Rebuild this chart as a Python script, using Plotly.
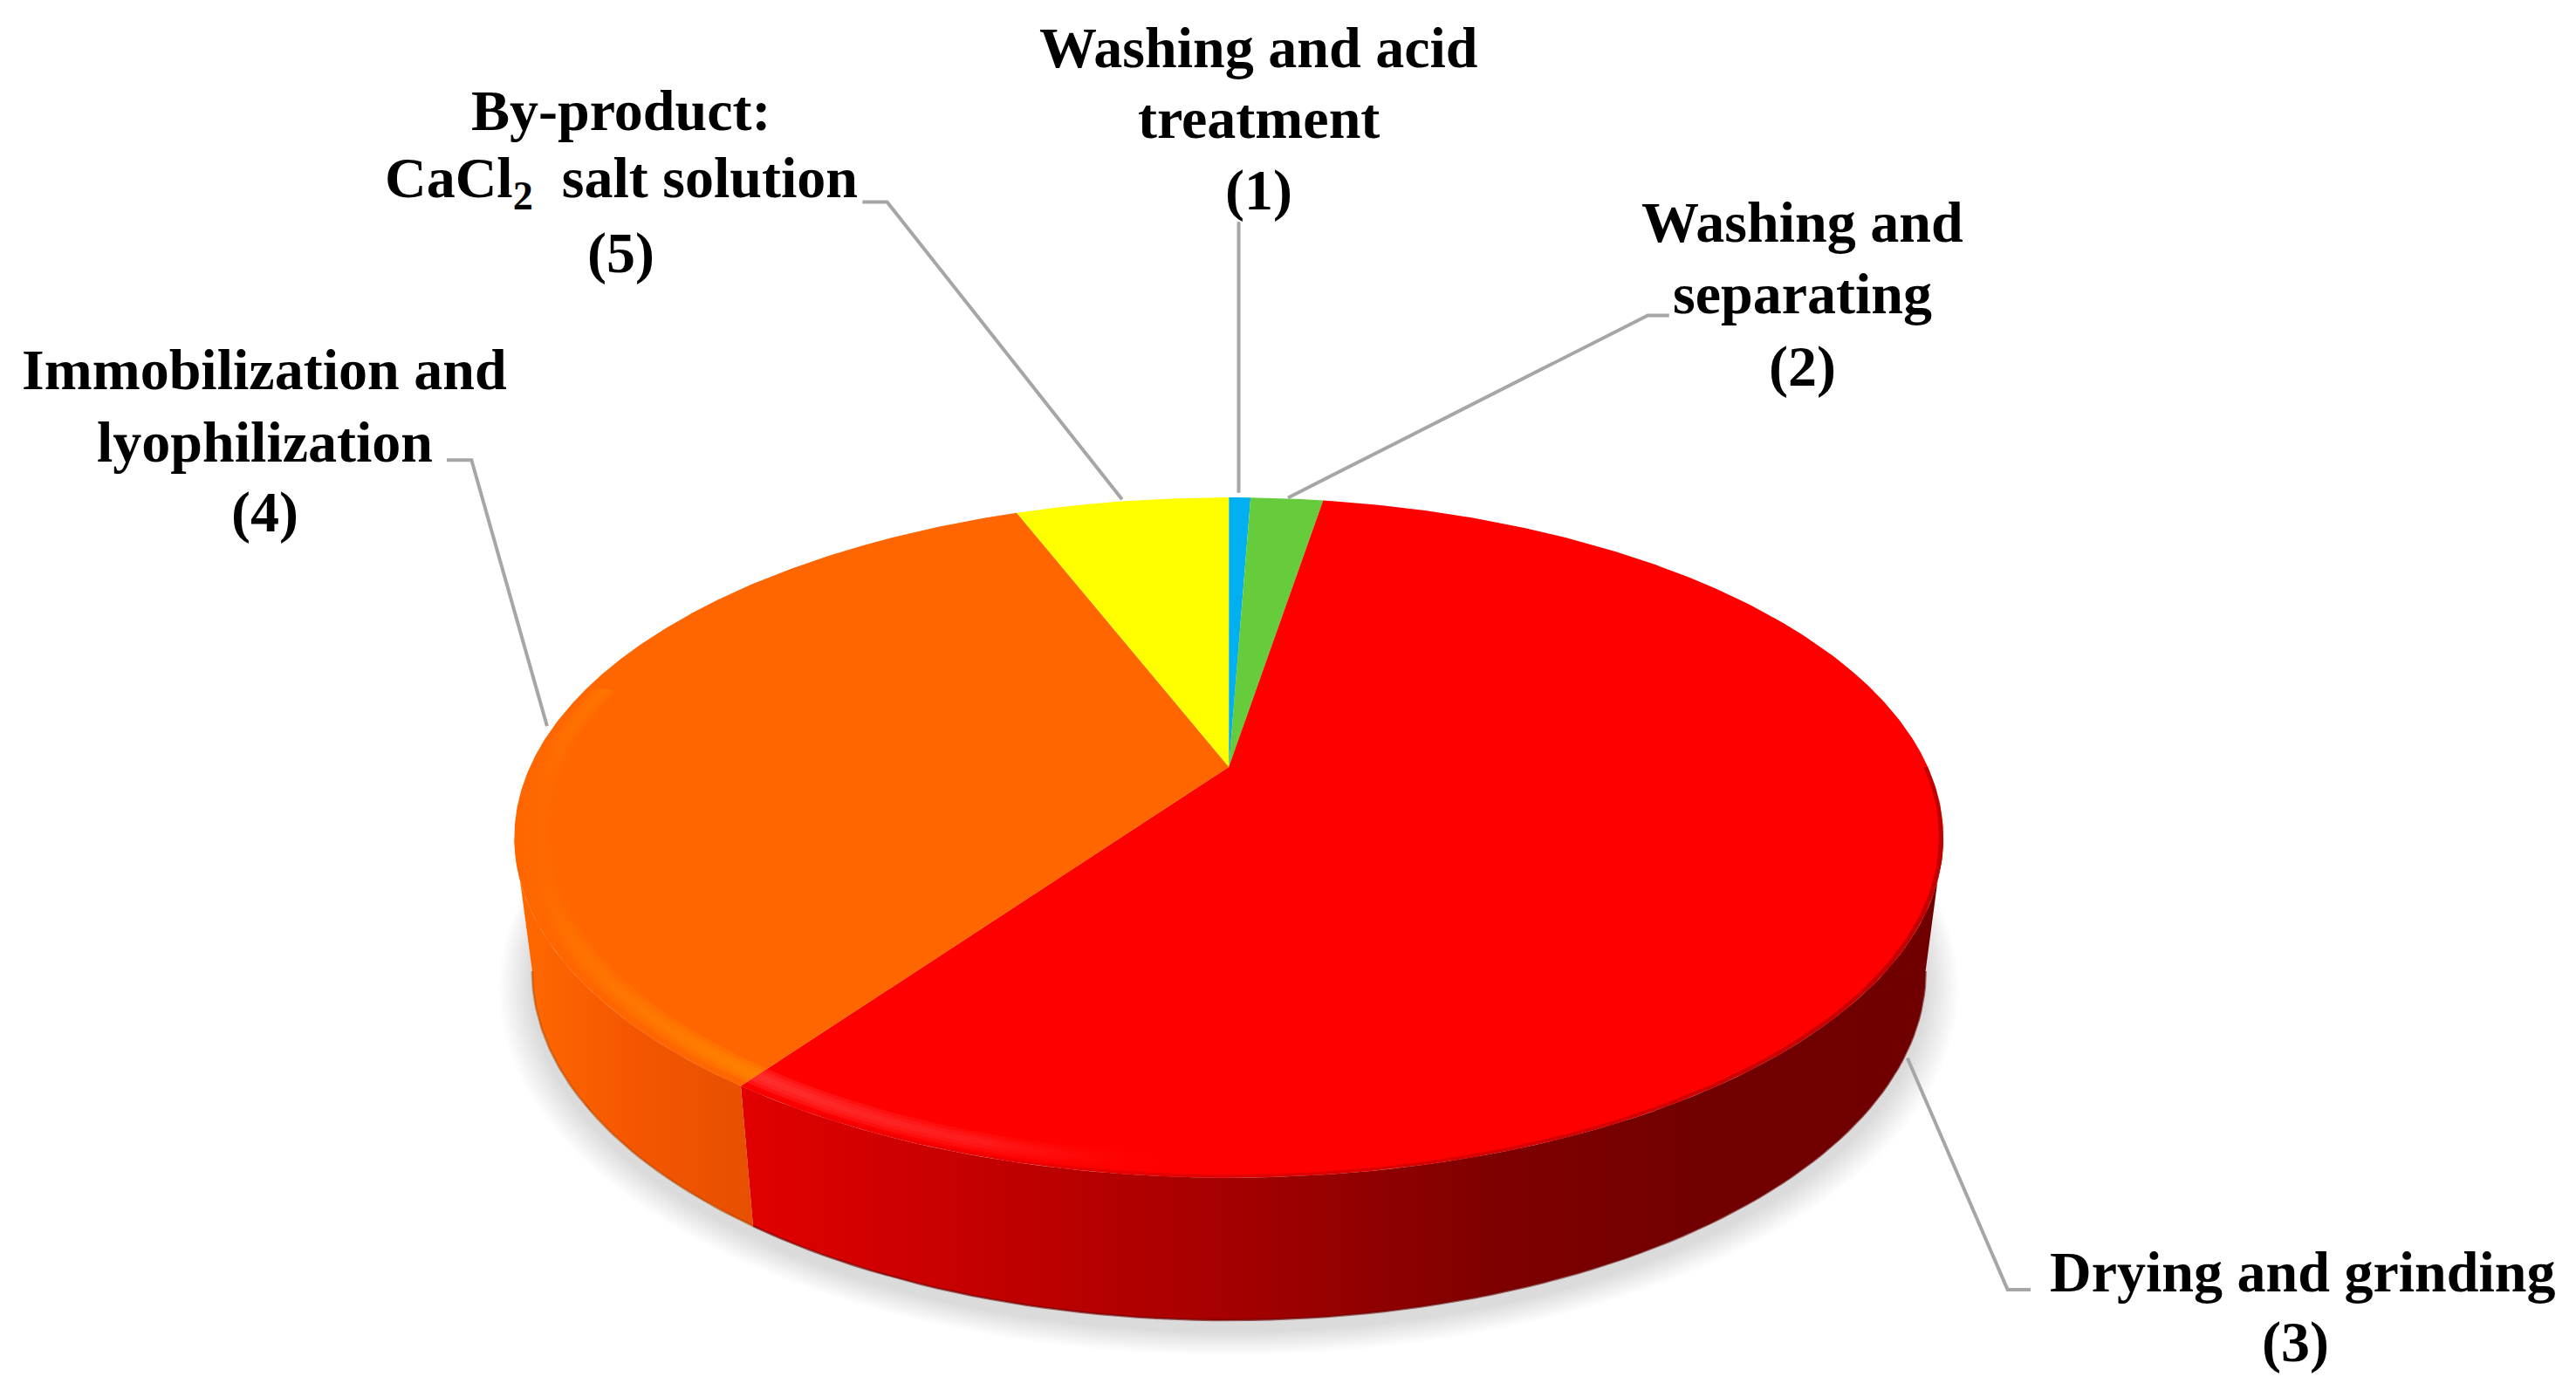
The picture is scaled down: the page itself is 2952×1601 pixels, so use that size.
import numpy as np
import plotly.graph_objects as go

label_lines = [["Washing and acid", "treatment", "(1)"], ["Washing and", "separating", "(2)"],
               ["Drying and grinding", "(3)"], ["Immobilization and", "lyophilization", "(4)"],
               ["By-product:", "CaCl<sub>2</sub>  salt solution", "(5)"]]
names = ["Washing and acid treatment", "Washing and separating", "Drying and grinding",
         "Immobilization and lyophilization", "By-product: CaCl2 salt solution"]
values = [0.6, 2.0, 57.25, 34.25, 5.9]
top_colors = ["#00b0f0", "#66cc3c", "#ff0000", "#ff6600", "#ffff00"]

W, H = 2952, 1601
S = W / 1568
CX = 748 * S
APEX_Y = 879.0
P = 0.2076
A = 801.0
B = 373.0
DEPTH = 151.0
BOTTOM_KX = 0.975
BOTTOM_KY = 1.026


def proj(theta_deg, radius=1.0, level=0.0):
    t = np.radians(theta_deg)
    u, v = radius * np.sin(t), radius * np.cos(t)
    w = 1 + P * v
    kx = 1 + (BOTTOM_KX - 1) * level
    ky = 1 + (BOTTOM_KY - 1) * level
    return CX + kx * A * u / w, APEX_Y + DEPTH * level - ky * B * v / w


fig = go.Figure()


def poly(x, y, color=None, grad=None, name=None):
    kw = dict(fillgradient=grad) if grad else dict(fillcolor=color)
    fig.add_trace(go.Scatter(x=np.round(x, 1), y=np.round(y, 1), mode="lines", fill="toself",
                             line=dict(width=0), hoverinfo="skip", name=name, showlegend=False, **kw))


# soft shadow under the disc
full = np.linspace(0, 360, 181)
for grow in np.arange(36, 0, -3):
    r = 1 + grow / 800
    x, y = proj(full, r, 1.0)
    poly(x, y + 12, "rgba(0,0,0,0.0105)")

# cumulative angles of the slices, clockwise from the top
edges = np.concatenate([[0], np.cumsum(values)]) / sum(values) * 360
ext = np.degrees(np.arccos(-P))  # silhouette angle on the right


def wall(t0, t1, scale, name):
    th = np.linspace(t0, t1, 90)
    x0, y0 = proj(th, 1, 0)
    x1, y1 = proj(th[::-1], 1, 1)
    poly(np.r_[x0, x1], np.r_[y0, y1], grad=dict(type="horizontal", colorscale=scale), name=name)


wall(ext, edges[3],
     [[0, "#e20000"], [0.12, "#d00000"], [0.25, "#bc0000"], [0.4, "#a60000"], [0.62, "#800000"],
      [0.8, "#720000"], [1, "#700000"]],
     names[2])
wall(edges[3], 360 - ext, [[0, "#ff6a00"], [0.5, "#f55600"], [1, "#e65000"]], names[3])


def rim_line(t0, t1, color):
    x, y = proj(np.linspace(t0, t1, 90), 1, 1)
    fig.add_trace(go.Scatter(x=np.round(x, 1), y=np.round(y, 1), mode="lines", line=dict(color=color, width=2.5),
                             hoverinfo="skip", showlegend=False))


rim_line(ext, edges[3], "rgba(105,0,0,0.6)")
rim_line(edges[3], 360 - ext, "rgba(170,70,0,0.5)")

# top surface slices
for i, (name, col) in enumerate(zip(names, top_colors)):
    th = np.linspace(edges[i], edges[i + 1], max(3, int(edges[i + 1] - edges[i]) * 2))
    x, y = proj(th)
    poly(np.r_[CX, x], np.r_[APEX_Y, y], col, name=name)


# bevel highlights along the near rim
def band(t0, t1, r0, r1, scale):
    th = np.linspace(t0, t1, 90)
    x0, y0 = proj(th, r0)
    x1, y1 = proj(th[::-1], r1)
    poly(np.r_[x0, x1], np.r_[y0, y1], grad=dict(type="horizontal", colorscale=scale))


red_hi = [[0, "rgba(255,60,60,0.38)"], [0.2, "rgba(255,50,50,0.22)"], [0.36, "rgba(255,0,0,0)"], [1, "rgba(255,0,0,0)"]]
org_hi = [[0, "rgba(255,130,0,0)"], [0.25, "rgba(255,130,0,0.18)"], [1, "rgba(255,135,0,0.42)"]]
for r0, r1 in [(0.99, 0.955), (0.984, 0.961), (0.978, 0.967)]:
    band(ext, edges[3], r0, r1, red_hi)
    band(edges[3], 285, r0, r1, org_hi)

# softened edge between the top surface and the dark wall
edge_soft = [[0, "rgba(140,0,0,0.05)"], [0.4, "rgba(140,0,0,0.25)"], [1, "rgba(120,0,0,0.45)"]]
band(ext - 12, edges[3], 1.0, 0.994, edge_soft)

# leader lines
leaders = [
    [(754, 135), (754, 300)],
    [(784, 303), (1003, 192), (1016, 192)],
    [(1161, 644), (1222, 785), (1236, 785)],
    [(333, 442), (287, 280), (272, 280)],
    [(683, 304), (540, 123), (525, 123)],
]
for pts in leaders:
    fig.add_trace(go.Scatter(x=[p[0] * S for p in pts], y=[p[1] * S for p in pts], mode="lines",
                             line=dict(color="#a6a6a6", width=4), hoverinfo="skip", showlegend=False))

# labels: centre x of each line and y of each line (in the 1568-wide frame)
label_x = [[766, 766, 766], [1097, 1097, 1097], [1402, 1397], [161, 161, 161], [378, 378, 378]]
label_y = [[29, 72, 116], [135, 179, 223], [774, 817], [225, 269, 312], [67, 111, 154]]
for lines, xs, ys in zip(label_lines, label_x, label_y):
    for line, lx, ly in zip(lines, xs, ys):
        fig.add_annotation(x=lx * S, y=ly * S, text=line, showarrow=False, xanchor="center", yanchor="middle",
                           align="center", font=dict(family="Liberation Serif", size=66, color="#000000", weight=700))

fig.update_layout(width=W, height=H, margin=dict(l=0, r=0, t=0, b=0), plot_bgcolor="white",
                  paper_bgcolor="white", showlegend=False,
                  xaxis=dict(range=[0, W], visible=False, fixedrange=True),
                  yaxis=dict(range=[H, 0], visible=False, fixedrange=True))
fig.write_html("out.html", config=dict(displayModeBar=False),
               post_script="document.body.style.margin='0';document.body.style.overflow='hidden';")
